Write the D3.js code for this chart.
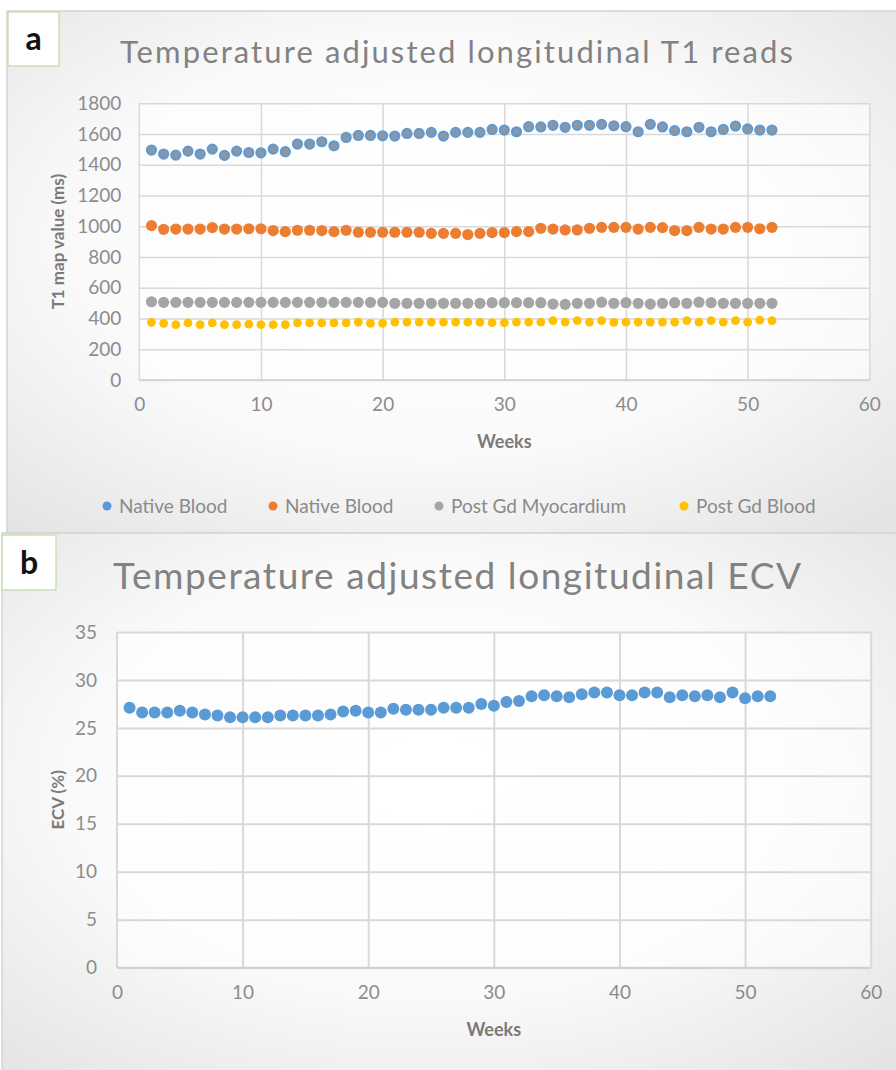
<!DOCTYPE html>
<html>
<head>
<meta charset="utf-8">
<script src="https://cdn.jsdelivr.net/npm/d3@7"></script>
<style>
  body { margin: 0; background: #fff; }
  svg { display: block; }
  text { font-family: Lato, "Open Sans", sans-serif; }
</style>
</head>
<body>
<div id="main"></div>
<script>
// semanas 1..52
const weeks = [1,2,3,4,5,6,7,8,9,10,11,12,13,14,15,16,17,18,19,20,21,22,23,24,25,26,
  27,28,29,30,31,32,33,34,35,36,37,38,39,40,41,42,43,44,45,46,47,48,49,50,51,52];

// painel a - T1 (ms)
const nativeBloodA = [1496,1470,1463,1489,1470,1502,1461,1489,1480,1478,1502,1485,1535,1535,1550,1524,
  1578,1591,1591,1589,1587,1604,1604,1611,1587,1611,1611,1611,1630,1626,1615,1648,1646,1657,1644,1657,
  1657,1663,1654,1648,1615,1663,1646,1622,1615,1644,1615,1630,1652,1633,1626,1626];
const nativeBloodB = [1004,980,982,982,982,991,982,982,984,984,972,965,974,974,972,965,974,961,961,961,
  961,961,961,954,954,954,946,954,959,959,965,965,987,982,976,976,987,993,993,993,982,993,991,972,972,
  993,982,982,993,993,984,993];
const postGdMyo = [509,505,505,505,505,505,505,505,505,505,505,505,505,505,505,505,505,505,505,505,
  499,499,499,499,499,499,499,499,503,503,503,503,503,494,492,499,499,506,499,503,499,494,499,503,
  499,506,503,499,499,499,499,499];
const postGdBlood = [375,369,360,371,360,371,360,360,364,360,360,360,371,371,371,371,371,377,369,369,
  377,377,377,377,377,377,377,377,373,373,377,377,377,386,377,386,377,386,375,377,377,377,377,377,
  386,377,386,377,386,377,390,386];

// painel b - ECV (%)
const ecv = [27.1,26.6,26.6,26.6,26.8,26.6,26.4,26.3,26.1,26.1,26.1,26.1,26.3,26.3,26.3,26.3,26.4,26.7,
  26.8,26.6,26.6,27.0,26.9,26.9,26.9,27.1,27.1,27.1,27.5,27.3,27.7,27.8,28.3,28.4,28.3,28.2,28.5,28.7,
  28.7,28.4,28.4,28.7,28.7,28.2,28.4,28.3,28.4,28.2,28.7,28.1,28.3,28.3];

const xTicks = [0,10,20,30,40,50,60];
const yTicksA = [0,200,400,600,800,1000,1200,1400,1600,1800];
const yTicksB = [0,5,10,15,20,25,30,35];
const legendLabels = ['Native Blood','Native Blood','Post Gd Myocardium','Post Gd Blood'];

const svg = d3.select('#main').append('svg')
  .attr('width', 896)
  .attr('height', 1070);

const defs = svg.append('defs');
const grad = defs.append('radialGradient').attr('id', 'fundo')
  .attr('cx', '48%').attr('cy', '45%').attr('r', '72%');
grad.append('stop').attr('offset', '0%').attr('stop-color', '#ffffff');
grad.append('stop').attr('offset', '55%').attr('stop-color', '#fafafa');
grad.append('stop').attr('offset', '100%').attr('stop-color', '#e4e4e4');

class Painel {
  constructor(config) {
    this.config = config;
    this.g = svg.append('g');
    this.xScale = d3.scaleLinear().domain([0, 60]).range([config.left, config.right]);
    this.yScale = d3.scaleLinear().domain(config.yDomain).range([config.bottom, config.top]);

    this.createBox();
    this.createAxis();
  }

  createBox() {
    let c = this.config;
    this.g.append('rect')
      .attr('x', c.box[0]).attr('y', c.box[1])
      .attr('width', c.box[2]).attr('height', c.box[3])
      .attr('fill', 'url(#fundo)')
      .attr('stroke', '#d4d4d4')
      .attr('stroke-width', 1.5);

    this.g.append('text')
      .attr('x', c.titleX)
      .attr('y', c.titleY)
      .attr('textLength', c.titleLen)
      .attr('lengthAdjust', 'spacing')
      .attr('font-size', c.titleSize)
      .attr('fill', '#828282')
      .text(c.title);

    // etiqueta a / b
    this.g.append('rect')
      .attr('x', c.tag[0]).attr('y', c.tag[1])
      .attr('width', c.tag[2]).attr('height', c.tag[3])
      .attr('fill', '#fff')
      .attr('stroke', '#c8e0b8')
      .attr('stroke-width', 1.5);
    this.g.append('text')
      .attr('x', c.tag[0] + c.tag[2] / 2)
      .attr('y', c.tag[1] + c.tag[3] / 2 + 11)
      .attr('text-anchor', 'middle')
      .attr('font-family', 'Liberation Sans, Arial, sans-serif')
      .attr('font-size', 32)
      .attr('font-weight', 'bold')
      .attr('fill', '#111')
      .text(c.tagText);
  }

  createAxis() {
    let c = this.config;
    let w = c.right - c.left;
    let h = c.bottom - c.top;

    this.g.append('rect')
      .attr('x', c.left).attr('y', c.top)
      .attr('width', w).attr('height', h)
      .attr('fill', '#fff').attr('fill-opacity', 0.55);

    let xAxis = d3.axisBottom(this.xScale).tickValues(xTicks).tickSize(-h).tickPadding(14);
    let yAxis = d3.axisLeft(this.yScale).tickValues(c.yTicks).tickSize(-w).tickPadding(c.yPad)
      .tickFormat(d3.format('d'));

    let gx = this.g.append('g')
      .attr('transform', `translate(0,${c.bottom})`)
      .call(xAxis);
    let gy = this.g.append('g')
      .attr('transform', `translate(${c.left},0)`)
      .call(yAxis);

    [gx, gy].forEach(ax => {
      ax.select('.domain').remove();
      ax.selectAll('line').attr('stroke', '#d9d9d9').attr('stroke-width', c.gridW);
      ax.selectAll('text')
        .attr('fill', '#8c8c8c')
        .attr('font-size', 19)
        .attr('font-family', 'Lato, sans-serif');
    });
    gx.selectAll('text').attr('dy', '0.9em');
    gx.selectAll('line').filter(d => d === 0).remove();

    // linha do eixo
    this.g.append('line')
      .attr('x1', c.left).attr('x2', c.right)
      .attr('y1', c.bottom).attr('y2', c.bottom)
      .attr('stroke', '#d0d0d0').attr('stroke-width', c.gridW);
    this.g.append('line')
      .attr('x1', c.left).attr('x2', c.left)
      .attr('y1', c.top).attr('y2', c.bottom)
      .attr('stroke', '#d9d9d9').attr('stroke-width', c.gridW);

    this.g.append('text')
      .attr('x', (c.left + c.right) / 2)
      .attr('y', c.xTitleY)
      .attr('text-anchor', 'middle')
      .attr('font-size', 18)
      .attr('font-weight', 'bold')
      .attr('fill', '#7a7a7a')
      .text('Weeks');

    this.g.append('text')
      .attr('transform', `translate(${c.yTitleX},${(c.top + c.bottom) / 2}) rotate(-90)`)
      .attr('text-anchor', 'middle')
      .attr('dy', '0.35em')
      .attr('font-size', 17)
      .attr('font-weight', 'bold')
      .attr('fill', '#7a7a7a')
      .text(c.yTitle);
  }

  addSeries(values, fill, stroke, r) {
    this.g.append('g')
      .selectAll('circle')
      .data(values)
      .join('circle')
      .attr('cx', (d, i) => this.xScale(weeks[i]))
      .attr('cy', d => this.yScale(d))
      .attr('r', r)
      .attr('fill', fill)
      .attr('stroke', stroke)
      .attr('stroke-width', stroke === 'none' ? 0 : 2);
  }
}

let a = new Painel({
  box: [7, 11, 895, 522], tag: [8, 12, 51, 54], tagText: 'a',
  title: 'Temperature adjusted longitudinal T1 reads', titleX: 120, titleY: 63, titleLen: 673, titleSize: 31,
  left: 139.3, right: 869.3, top: 103.3, bottom: 380,
  yDomain: [0, 1800], yTicks: yTicksA, yPad: 18, gridW: 1.5,
  xTitleY: 448, yTitleX: 58, yTitle: 'T1 map value (ms)'
});
a.addSeries(nativeBloodA, '#8c96a4', '#5b9bd5', 4.6);
a.addSeries(nativeBloodB, '#ed7d31', 'none', 5.6);
a.addSeries(postGdMyo, '#a5a5a5', 'none', 5.6);
a.addSeries(postGdBlood, '#ffc000', 'none', 4.4);

// legenda
const legendColors = ['#5b9bd5', '#ed7d31', '#a5a5a5', '#ffc000'];
const legendX = [107, 273, 439, 684];
let leg = a.g.append('g').selectAll('g')
  .data(legendLabels)
  .join('g')
  .attr('transform', (d, i) => `translate(${legendX[i]},506)`);
leg.append('circle').attr('r', 4.5).attr('fill', (d, i) => legendColors[i]);
leg.append('text')
  .attr('x', 12)
  .attr('dy', '0.35em')
  .attr('font-size', 19)
  .attr('fill', '#8a8a8a')
  .text(d => d);

let b = new Painel({
  box: [2, 533, 900, 545], tag: [2, 535, 54, 55], tagText: 'b',
  title: 'Temperature adjusted longitudinal ECV', titleX: 113, titleY: 589, titleLen: 688, titleSize: 37,
  left: 117, right: 870.7, top: 632, bottom: 967.7,
  yDomain: [0, 35], yTicks: yTicksB, yPad: 20, gridW: 2,
  xTitleY: 1036, yTitleX: 58, yTitle: 'ECV (%)'
});
b.addSeries(ecv, '#5b9bd5', 'none', 6);
</script>
</body>
</html>
